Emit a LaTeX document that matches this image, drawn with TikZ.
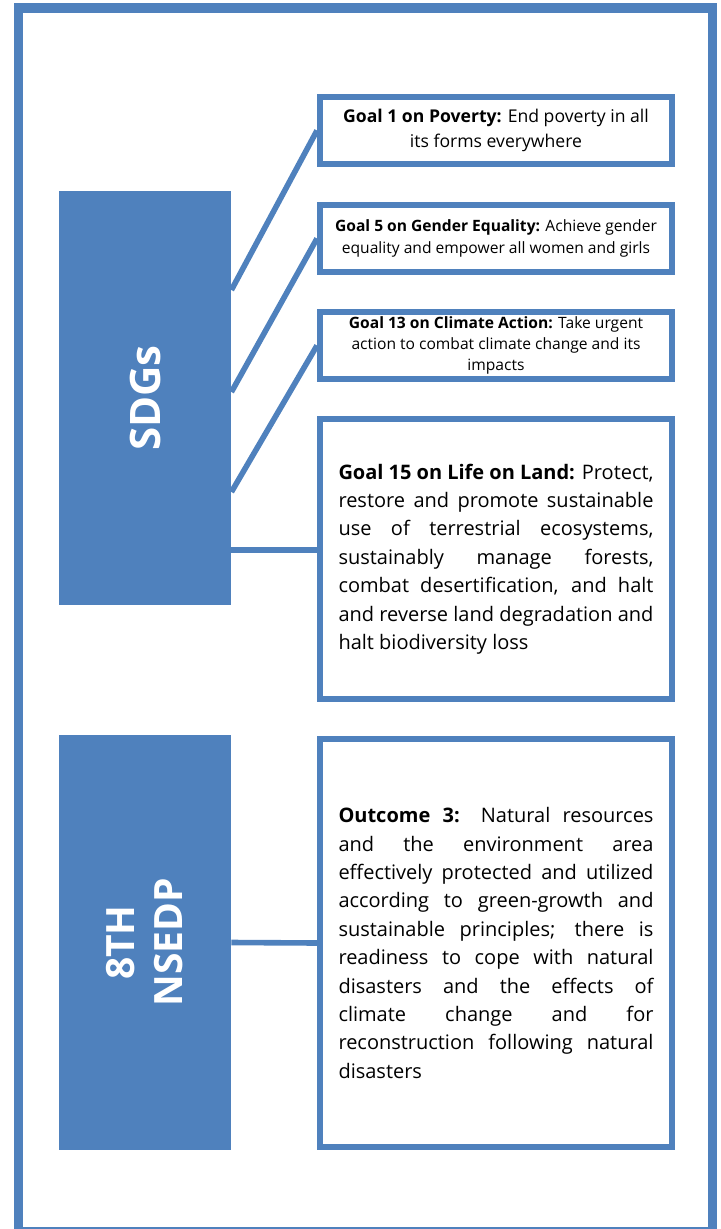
\documentclass[tikz,border=0pt]{standalone}
\usepackage{fontspec}
\setmainfont{Open Sans}
\usepackage{tikz}
\definecolor{sdgblue}{HTML}{4F81BD}
\tikzset{
  goalbox/.style={draw=sdgblue, line width=3pt, fill=white, inner sep=0pt, minimum width=176pt},
  sidebox/.style={fill=sdgblue, inner sep=0pt, minimum width=86pt},
  sidetext/.style={rotate=90, text=white, align=center, inner sep=0pt},
  link/.style={draw=sdgblue, line width=2.8pt}
}

\begin{document}
\begin{tikzpicture}[x=0.5pt, y=-0.5pt]
\useasboundingbox (0,0) rectangle (720,1229);
\clip (0,0) rectangle (720,1229);

% Outer frame
\draw[sdgblue, line width=4.65pt] (18.7,8) rectangle (712.5,1231.5);

% Left blocks
\node[sidebox, minimum height=207pt] (sdgs) at (145,398) {};
\node[sidetext, font=\bfseries\fontsize{21}{25}\selectfont] (sdgslbl) at (sdgs) {SDGs};
\node[sidebox, minimum height=207.5pt] (nsedp) at (145,942.5) {};
\node[sidetext, font=\bfseries\fontsize{19.5}{24}\selectfont] (nsedplbl) at (nsedp) {8TH\\NSEDP};

% Goal boxes
\node[goalbox, minimum height=33.5pt, align=center, font=\fontsize{8.8}{12.5}\selectfont] (g1) at (496,130.5)
  {\textbf{Goal 1 on Poverty:} End poverty in all\\its forms everywhere};
\node[goalbox, minimum height=33.5pt, align=center, font=\fontsize{7.8}{10.7}\selectfont] (g5) at (496,238.5)
  {\textbf{Goal 5 on Gender Equality:} Achieve gender\\equality and empower all women and girls};
\node[goalbox, minimum height=33.5pt, align=center, font=\fontsize{7.8}{10.5}\selectfont] (g13) at (496,345.5)
  {\textbf{Goal 13 on Climate Action:} Take urgent\\action to combat climate change and its\\impacts};
\node[goalbox, minimum height=140pt, text width=157.5pt, align=justify, font=\fontsize{10}{14.2}\selectfont] (g15) at (496,559)
  {\tolerance=10000\hyphenpenalty=10000
   \textbf{Goal 15 on Life on Land:} Protect,\linebreak restore and promote sustainable\linebreak
   use of terrestrial ecosystems,\linebreak sustainably manage forests,\linebreak
   combat desertification, and halt\linebreak and reverse land degradation and\linebreak
   halt biodiversity loss};

% Outcome box
\node[goalbox, minimum height=204pt, text width=157.5pt, align=justify, font=\fontsize{10}{14.2}\selectfont] (outcome) at (496,943)
  {\tolerance=10000\hyphenpenalty=10000
   \textbf{Outcome 3:} Natural resources\linebreak and the environment area\linebreak
   effectively protected and utilized\linebreak according to green-growth and\linebreak
   sustainable principles; there is\linebreak readiness to cope with natural\linebreak
   disasters and the effects of\linebreak climate change and for\linebreak
   reconstruction following natural\linebreak disasters};

% Connectors
\coordinate (s1) at ([yshift=54pt]sdgs.east);
\coordinate (s2) at ([yshift=3pt]sdgs.east);
\coordinate (s3) at ([yshift=-47pt]sdgs.east);
\coordinate (s4) at ([yshift=-76pt]sdgs.east);
\draw[link] (s1) -- (g1.west);
\draw[link] (s2) -- (g5.west);
\draw[link] (s3) -- (g13.west);
\draw[link] (s4) -- (s4 -| g15.west);
\draw[link] (nsedp.east) -- (outcome.west);

\end{tikzpicture}
\end{document}
